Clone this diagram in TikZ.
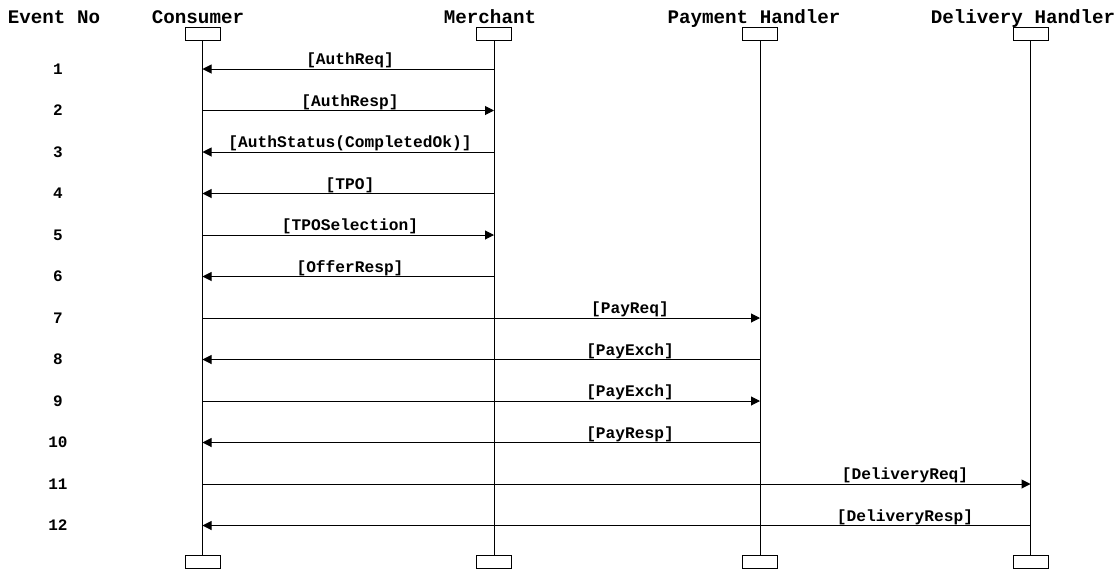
\documentclass[tikz,border=0pt]{standalone}
\usepackage{fontspec}
\setmainfont{Liberation Mono}
\usetikzlibrary{arrows.meta}
\begin{document}
\begin{tikzpicture}[x=1pt,y=-1pt,
  every node/.style={inner sep=0pt, outer sep=0pt},
  head/.style={font=\fontsize{19.2}{22}\selectfont\bfseries, anchor=base},
  num/.style={font=\fontsize{16}{19}\selectfont\bfseries, anchor=base},
  lbl/.style={font=\fontsize{16.2}{19}\selectfont\bfseries, anchor=base},
  actbox/.style={draw, line width=1pt, minimum width=35pt, minimum height=13.5pt},
  life/.style={line width=1pt},
  msg/.style={line width=1pt, -{Triangle[length=9pt,width=9pt]}}]
\useasboundingbox (0,0) rectangle (1120,571);

% column headings
\node[head] (hEv) at (54,23) {Event No};
\node[head] (hC) at (198,23) {Consumer};
\node[head] (hM) at (490,23) {Merchant};
\node[head] (hP) at (754,23) {Payment Handler};
\node[head] (hD) at (1023,23) {Delivery Handler};

% participant boxes, top and bottom
\node[actbox] (cT) at (202.5,34) {};
\node[actbox] (mT) at (494,34) {};
\node[actbox] (pT) at (760,34) {};
\node[actbox] (dT) at (1030.5,34) {};
\node[actbox] (cB) at (202.5,562) {};
\node[actbox] (mB) at (494,562) {};
\node[actbox] (pB) at (760,562) {};
\node[actbox] (dB) at (1030.5,562) {};

% lifelines
\draw[life] (cT.south) -- (cB.north);
\draw[life] (mT.south) -- (mB.north);
\draw[life] (pT.south) -- (pB.north);
\draw[life] (dT.south) -- (dB.north);

% event rows and their numbers
\foreach \k in {1,...,12} {
  \coordinate (r\k) at (58,{69+41.5*(\k-1)});
  \node[num] (n\k) at ([yshift=-5pt]r\k) {\k};
}

% messages
\draw[msg] (mT |- r1) -- (cT |- r1);
\node[lbl] (l1) at (350,64.5) {[AuthReq]};
\draw[msg] (cT |- r2) -- (mT |- r2);
\node[lbl] (l2) at (350,106) {[AuthResp]};
\draw[msg] (mT |- r3) -- (cT |- r3);
\node[lbl] (l3) at (350,147.5) {[AuthStatus(CompletedOk)]};
\draw[msg] (mT |- r4) -- (cT |- r4);
\node[lbl] (l4) at (350,189) {[TPO]};
\draw[msg] (cT |- r5) -- (mT |- r5);
\node[lbl] (l5) at (350,230.5) {[TPOSelection]};
\draw[msg] (mT |- r6) -- (cT |- r6);
\node[lbl] (l6) at (350,272) {[OfferResp]};
\draw[msg] (cT |- r7) -- (pT |- r7);
\node[lbl] (l7) at (630,313.5) {[PayReq]};
\draw[msg] (pT |- r8) -- (cT |- r8);
\node[lbl] (l8) at (630,355) {[PayExch]};
\draw[msg] (cT |- r9) -- (pT |- r9);
\node[lbl] (l9) at (630,396.5) {[PayExch]};
\draw[msg] (pT |- r10) -- (cT |- r10);
\node[lbl] (l10) at (630,438) {[PayResp]};
\draw[msg] (cT |- r11) -- (dT |- r11);
\node[lbl] (l11) at (905,479.5) {[DeliveryReq]};
\draw[msg] (dT |- r12) -- (cT |- r12);
\node[lbl] (l12) at (905,521) {[DeliveryResp]};
\end{tikzpicture}
\end{document}
